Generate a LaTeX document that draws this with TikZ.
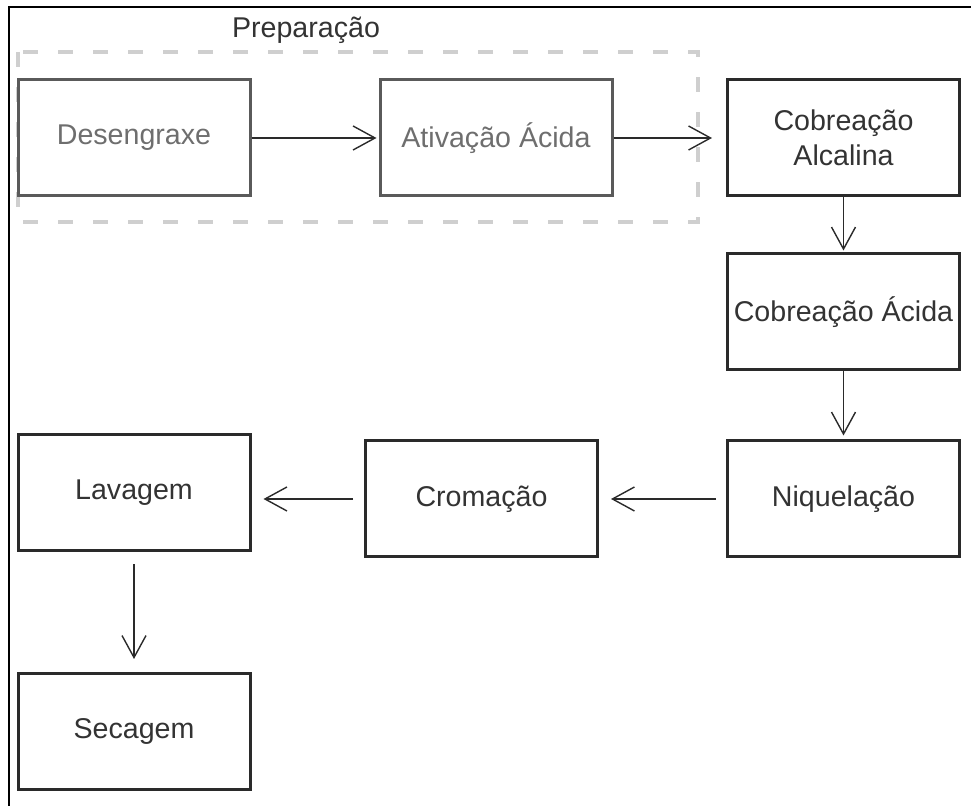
\documentclass[tikz,border=0pt]{standalone}
\usepackage{fontspec}
\setmainfont{Liberation Sans}
\usetikzlibrary{arrows.meta}
\definecolor{boxdark}{HTML}{2A2A2A}
\definecolor{boxgray}{HTML}{5A5A5A}
\definecolor{txtdark}{HTML}{333333}
\definecolor{txtgray}{HTML}{6E6E6E}
\definecolor{dashgray}{HTML}{CFCFCF}
\tikzset{
  stepbox/.style={draw=boxdark, line width=1.5pt, rectangle, minimum width=116pt, minimum height=58pt,
    inner sep=0pt, align=center, text=txtdark, font=\fontsize{14.3}{17.5}\selectfont},
  prepbox/.style={stepbox, draw=boxgray, text=txtgray},
  flow/.style={line width=0.7pt, draw=boxdark, -{Straight Barb[length=11pt, width=12pt, line width=0.7pt]}},
}
\begin{document}
\begin{tikzpicture}[x=0.5pt, y=-0.5pt]
\useasboundingbox (0,0) rectangle (971,806);
% outer frame (left and top)
\draw[line width=1.3pt, black] (9,806) -- (9,7) -- (971,7);
% preparation group
\draw[dashgray, line width=2pt, dash pattern=on 7.5pt off 10pt] (18,52) rectangle (698,222);
\node[text=txtdark, font=\fontsize{14.3}{17.5}\selectfont] (prep) at (306,30) {Preparação};
% nodes
\node[prepbox] (des) at (134,138) {Desengraxe};
\node[prepbox] (ati) at (496,138) {Ativação Ácida};
\node[stepbox] (alc) at (843.5,138) {Cobreação\\Alcalina};
\node[stepbox] (aci) at (843.5,312) {Cobreação Ácida};
\node[stepbox] (niq) at (843.5,499) {Niquelação};
\node[stepbox] (cro) at (481.5,499) {Cromação};
\node[stepbox] (lav) at (134,493) {Lavagem};
\node[stepbox] (sec) at (134,731.5) {Secagem};
% connectors
\draw[flow, shorten >=1pt] (des.east) -- (ati.west);
\draw[flow, shorten >=7pt] (ati.east) -- (alc.west);
\draw[flow, shorten >=1pt] (alc.south) -- (aci.north);
\draw[flow, shorten >=2pt] (aci.south) -- (niq.north);
\draw[flow, shorten <=5pt, shorten >=6pt] (niq.west) -- (cro.east);
\draw[flow, shorten <=5.5pt, shorten >=6pt] (cro.west) -- (lav.east |- cro.west);
\draw[flow, shorten <=6pt, shorten >=6.5pt] (lav.south) -- (sec.north);
\end{tikzpicture}
\end{document}
